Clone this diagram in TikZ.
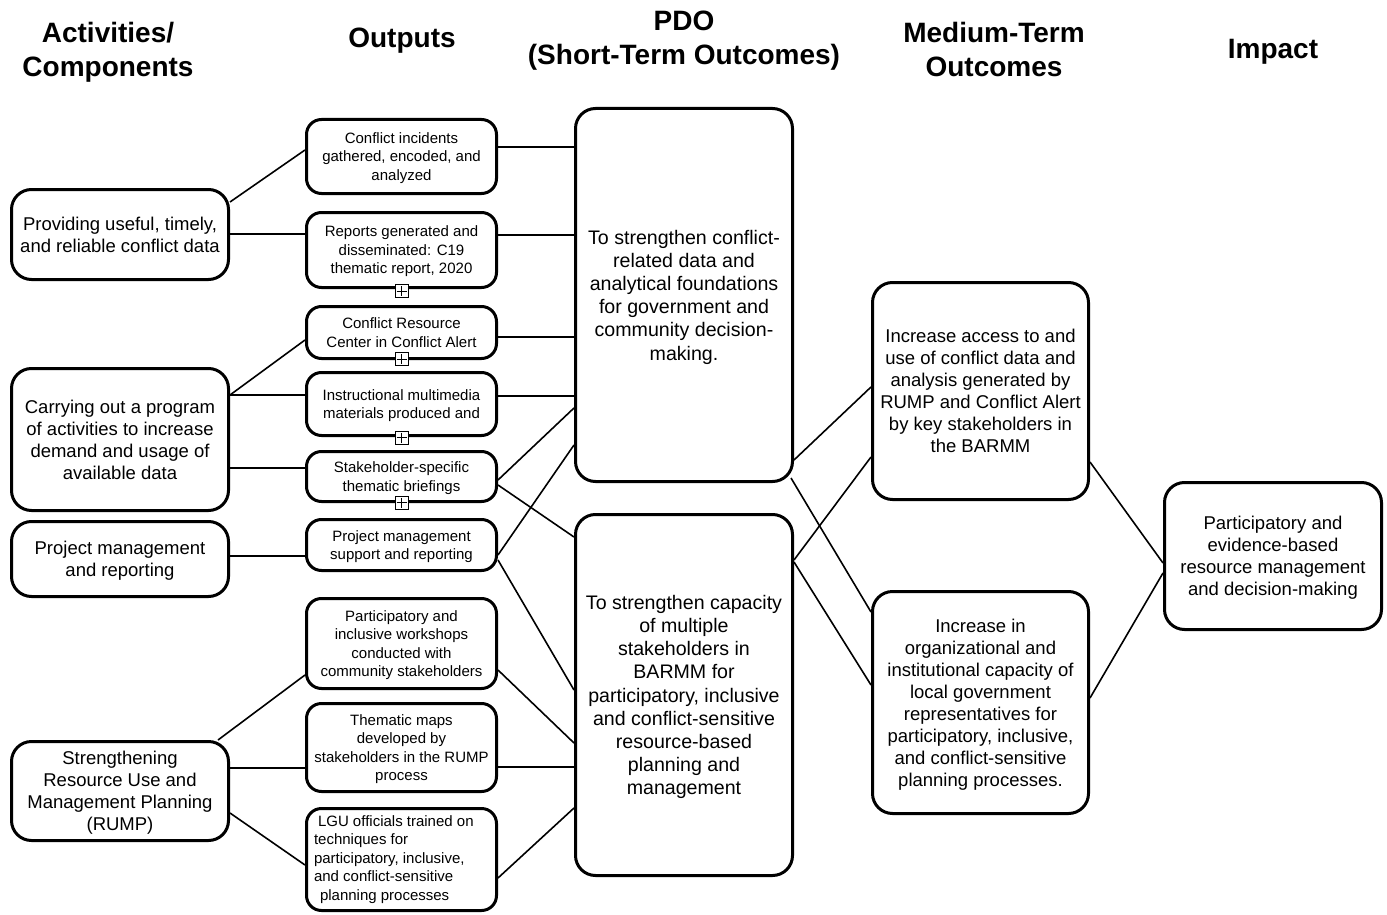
\documentclass[tikz,border=0pt]{standalone}
\usepackage{fontspec}
\setmainfont{Liberation Sans}
\usetikzlibrary{calc}
\tikzset{
  box/.style={draw, line width=3pt, rounded corners=15pt, align=center, inner sep=0pt, fill=white},
  lgubox/.style={box, font=\fontsize{15}{18.5}\selectfont, minimum width=190pt},
  outbox/.style={lgubox, text depth=0pt},
  bigbox/.style={box, text depth=0pt, rounded corners=20pt, font=\fontsize{18.5}{22}\selectfont, minimum width=217pt},
  pdobox/.style={bigbox, font=\fontsize{19.6}{23.2}\selectfont},
  header/.style={align=center, font=\fontsize{28}{34}\selectfont\bfseries, inner sep=0pt},
  conn/.style={line width=1.6pt},
  plusbox/.style={draw, line width=1pt, fill=white, minimum size=13pt, inner sep=0pt,
    path picture={
      \draw[line width=0.9pt] ([yshift=-1.5pt]path picture bounding box.north) -- ([yshift=1.5pt]path picture bounding box.south);
      \draw[line width=0.9pt] ([xshift=1.5pt]path picture bounding box.west) -- ([xshift=-1.5pt]path picture bounding box.east);
    }},
}
\begin{document}
\begin{tikzpicture}[x=1pt,y=-1pt]
\useasboundingbox (0,0) rectangle (1387,915);

% headers
\node[header] (h1) at (108,52) {Activities/\\Components};
\node[header] (h2) at (402,41) {Outputs};
\node[header] (h3) at (684,40.5) {PDO\\(Short-Term Outcomes)};
\node[header] (h4) at (994,49) {Medium-Term\\Outcomes};
\node[header] (h5) at (1273,52) {Impact};

% activities
\node[bigbox, minimum height=90pt] (a1) at (120,234.5) {Providing useful, timely,\\and reliable conflict data};
\node[bigbox, minimum height=142pt] (a2) at (120,439.5) {Carrying out a program\\of activities to increase\\demand and usage of\\available data};
\node[bigbox, minimum height=75pt] (a3) at (120,559) {Project management\\and reporting};
\node[bigbox, minimum height=99pt] (a4) at (120,791) {Strengthening\\Resource Use and\\Management Planning\\(RUMP)};

% outputs
\node[outbox, minimum height=74pt] (o1) at (401.5,156.5) {Conflict incidents\\gathered, encoded, and\\analyzed};
\node[outbox, minimum height=75pt] (o2) at (401.5,250) {Reports generated and\\disseminated: C19\\thematic report, 2020};
\node[outbox, minimum height=52pt] (o3) at (401.5,332.5) {Conflict Resource\\Center in Conflict Alert};
\node[outbox, minimum height=63pt] (o4) at (401.5,404) {Instructional multimedia\\materials produced and};
\node[outbox, minimum height=50pt] (o5) at (401.5,476.5) {Stakeholder-specific\\thematic briefings};
\node[outbox, minimum height=51pt] (o6) at (401.5,545) {Project management\\support and reporting};
\node[outbox, minimum height=90pt] (o7) at (401.5,643.5) {Participatory and\\inclusive workshops\\conducted with\\community stakeholders};
\node[outbox, minimum height=88pt] (o8) at (401.5,747.5) {Thematic maps\\developed by\\stakeholders in the RUMP\\process};
\node[lgubox, minimum height=102pt, align=left] (o9) at (401.5,859.5) {\parbox{175pt}{\raggedright\hspace*{4pt}LGU officials trained on\\techniques for\\participatory, inclusive,\\and conflict-sensitive\\\hspace*{6pt}planning processes}};

\node[plusbox] (x2) at (401.5,291) {};
\node[plusbox] (x3) at (401.5,359) {};
\node[plusbox] (x4) at (401.5,437.5) {};
\node[plusbox] (x5) at (401.5,502.5) {};

% PDO
\node[pdobox, minimum height=373pt] (p1) at (684,295) {To strengthen conflict-\\related data and\\analytical foundations\\for government and\\community decision-\\making.};
\node[pdobox, minimum height=361pt] (p2) at (684,695) {To strengthen capacity\\of multiple\\stakeholders in\\BARMM for\\participatory, inclusive\\and conflict-sensitive\\resource-based\\planning and\\management};

% medium-term
\node[bigbox, minimum width=216pt, minimum height=217pt] (m1) at (980.5,391) {Increase access to and\\use of conflict data and\\analysis generated by\\RUMP and Conflict Alert\\by key stakeholders in\\the BARMM};
\node[bigbox, minimum width=216pt, minimum height=222pt] (m2) at (980.5,702.5) {Increase in\\organizational and\\institutional capacity of\\local government\\representatives for\\participatory, inclusive,\\and conflict-sensitive\\planning processes.};

% impact
\node[bigbox, minimum height=147pt] (imp) at (1273,556) {Participatory and\\evidence-based\\resource management\\and decision-making};

% connectors: activities -> outputs
\draw[conn] (a1.east |- 0,202) -- (o1.west |- 0,150);
\draw[conn] (a1.east |- 0,234) -- (o2.west |- 0,234);
\draw[conn] (a2.east |- 0,395) -- (o3.west |- 0,340);
\draw[conn] (a2.east |- 0,395) -- (o4.west |- 0,395);
\draw[conn] (a2.east |- 0,468) -- (o5.west |- 0,468);
\draw[conn] (a3.east |- 0,556) -- (o6.west |- 0,556);
\draw[conn] ($(a4.north east)+(-12,0)$) -- (o7.west |- 0,675);
\draw[conn] (a4.east |- 0,768) -- (o8.west |- 0,768);
\draw[conn] (a4.east |- 0,813) -- (o9.west |- 0,865);

% outputs -> PDO
\draw[conn] (o1.east |- 0,147) -- (p1.west |- 0,147);
\draw[conn] (o2.east |- 0,235) -- (p1.west |- 0,235);
\draw[conn] (o3.east |- 0,337) -- (p1.west |- 0,337);
\draw[conn] (o4.east |- 0,396) -- (p1.west |- 0,396);
\draw[conn] (o5.east |- 0,480) -- (p1.west |- 0,408);
\draw[conn] (o5.east |- 0,485) -- (p2.west |- 0,537);
\draw[conn] (o6.east |- 0,555) -- (p1.west |- 0,445);
\draw[conn] (o6.east |- 0,560) -- (p2.west |- 0,690);
\draw[conn] (o7.east |- 0,670) -- (p2.west |- 0,743);
\draw[conn] (o8.east |- 0,767) -- (p2.west |- 0,767);
\draw[conn] (o9.east |- 0,878) -- (p2.west |- 0,808);

% PDO -> medium
\draw[conn] (p1.east |- 0,460) -- (m1.west |- 0,387);
\draw[conn] ($(p1.east |- 0,478)+(-3,0)$) -- (m2.west |- 0,612);
\draw[conn] (p2.east |- 0,560) -- (m1.west |- 0,457);
\draw[conn] (p2.east |- 0,562) -- (m2.west |- 0,685);

% medium -> impact
\draw[conn] (m1.east |- 0,462) -- (imp.west |- 0,563);
\draw[conn] (m2.east |- 0,698) -- (imp.west |- 0,573);
\end{tikzpicture}
\end{document}
